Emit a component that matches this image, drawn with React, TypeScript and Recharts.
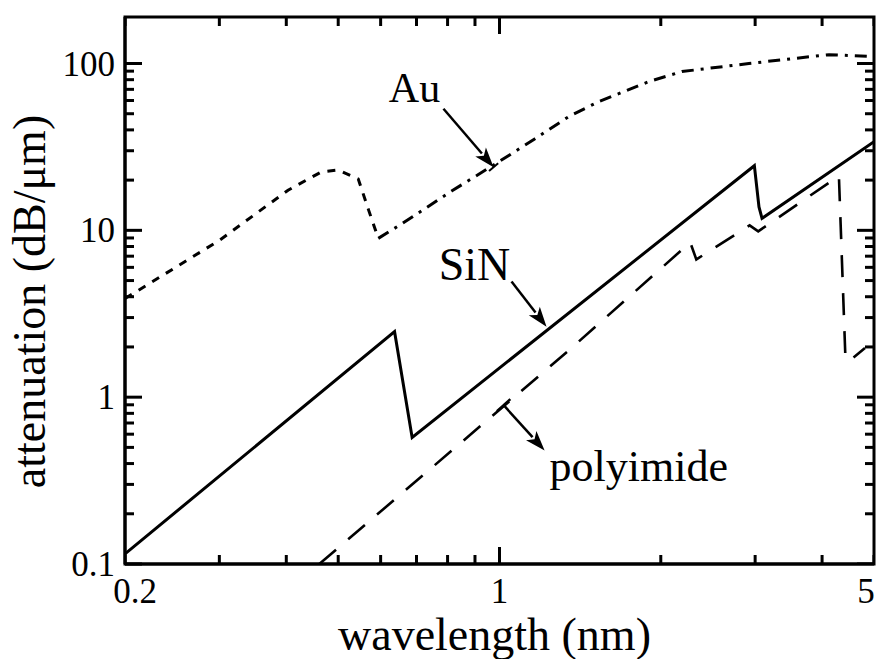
import React from 'react';
import { ComposedChart, Line, Scatter, XAxis, YAxis, ReferenceLine, ReferenceDot, ReferenceArea } from 'recharts';

// ---- tick definitions ----
const wavelengthTicks = [0.2, 0.3, 0.4, 0.5, 0.6, 0.7, 0.8, 0.9, 1, 2, 3, 4, 5];
const wavelengthMajorTicks = [1];
const wavelengthLabelValues = [0.2, 1, 5];
const wavelengthLabelTexts = ['0.2', '1', '5'];
const wavelengthMin = 0.2;
const wavelengthMax = 5;

const attenuationTicks = [
  0.1, 0.2, 0.3, 0.4, 0.5, 0.6, 0.7, 0.8, 0.9,
  1, 2, 3, 4, 5, 6, 7, 8, 9,
  10, 20, 30, 40, 50, 60, 70, 80, 90,
  100,
];
const attenuationMajorTicks = [0.1, 1, 10, 100];
const attenuationLabelTexts = ['0.1', '1', '10', '100'];
const attenuationMin = 0.1;
const attenuationMax = 190;

const xTitle = 'wavelength (nm)';
const yTitle = 'attenuation (dB/μm)';

// ---- series ----
const sinWavelength = [0.2, 0.637, 0.687, 2.99, 3.05, 3.09, 5];
const sinAttenuation = [0.115, 2.47, 0.574, 24.4, 13.8, 11.8, 34];

const polyWavelength = [0.461, 1.35, 2.27, 2.33, 2.93, 3.04, 4.3, 4.42, 4.48, 4.81];
const polyAttenuation = [0.1, 1.92, 8.47, 6.69, 10.7, 9.86, 21.2, 1.79, 1.63, 1.97];

const auWavelength = [0.2, 0.3, 0.403, 0.465, 0.5, 0.545, 0.569, 0.594, 0.656, 0.814, 0.996, 1.163, 1.346, 1.53, 1.9, 2.19, 2.92, 4.12, 5];
const auAttenuation = [3.9, 8.71, 17.4, 22.4, 23.0, 20.3, 13.4, 8.95, 10.9, 17.2, 25.7, 35.3, 48.0, 59.0, 77.9, 89.5, 100, 113, 110];
const auEdgeIndex = 7; // trough after the M-edge

// ---- annotations (data coordinates) ----
const labelTexts = ['Au', 'SiN', 'polyimide'];
const labelWavelength = [0.694, 0.898, 1.24];
const labelAttenuation = [59, 5.07, 0.316];
const arrowFrom = [
  { x: 0.786, y: 53.6 },
  { x: 1.053, y: 4.93 },
  { x: 1.018, y: 0.895 },
];
const arrowTo = [
  { x: 0.975, y: 23.9 },
  { x: 1.224, y: 2.64 },
  { x: 1.214, y: 0.479 },
];

const near = (a: number, b: number) => Math.abs(a - b) < 1e-9 * Math.max(1, Math.abs(b));
const toPoints = (xs: number[], ys: number[]) => xs.map((x, i) => ({ x, y: ys[i] }));
const sinData = toPoints(sinWavelength, sinAttenuation);
const polyData = toPoints(polyWavelength, polyAttenuation);
const auAll = toPoints(auWavelength, auAttenuation);
const auLow = auAll.slice(0, auEdgeIndex + 1);
const auHigh = auAll.slice(auEdgeIndex);

const isXMajor = (v: number) => wavelengthMajorTicks.some((m) => near(m, v));
const isYMajor = (v: number) => attenuationMajorTicks.some((m) => near(m, v));
const bottomTickData = wavelengthTicks.map((v) => ({ x: v, y: attenuationMin, major: isXMajor(v) }));
const topTickData = wavelengthTicks.map((v) => ({ x: v, y: attenuationMax, major: isXMajor(v) }));
const rightTickData = attenuationTicks.map((v) => ({ x: wavelengthMax, y: v, major: isYMajor(v) }));

const FONT = '"Liberation Serif", "Times New Roman", serif';

const tickShape = (dx: number, dy: number) => (p: any) => {
  const len = p.payload && p.payload.major ? 17 : 9;
  return <line x1={p.cx} y1={p.cy} x2={p.cx + dx * len} y2={p.cy + dy * len} stroke="#000" strokeWidth={3} />;
};

const BottomTick = (props: any) => {
  const { x, y, payload } = props;
  const li = wavelengthLabelValues.findIndex((m) => near(m, payload.value));
  if (li < 0) return <g />;
  const dx = li === 0 ? 10 : li === 2 ? -8 : 0;
  return (
    <text x={x + dx} y={y + 39} textAnchor="middle" fontFamily={FONT} fontSize={35} fill="#000">
      {wavelengthLabelTexts[li]}
    </text>
  );
};

const LeftTick = (props: any) => {
  const { x, y, payload } = props;
  const li = attenuationMajorTicks.findIndex((m) => near(m, payload.value));
  const len = li >= 0 ? 17 : 9;
  return (
    <g>
      <line x1={x} y1={y} x2={x + len} y2={y} stroke="#000" strokeWidth={3} />
      {li >= 0 && (
        <text x={x - 10} y={y + 12} textAnchor="end" fontFamily={FONT} fontSize={35} fill="#000">
          {attenuationLabelTexts[li]}
        </text>
      )}
    </g>
  );
};

const XTitle = (props: any) => {
  const vb = props.viewBox || { x: 125, y: 564, width: 749, height: 95 };
  return (
    <text x={vb.x + vb.width / 2 - 5} y={vb.y + 86} textAnchor="middle" fontFamily={FONT} fontSize={46} fill="#000">
      {xTitle}
    </text>
  );
};

const YTitle = (props: any) => {
  const vb = props.viewBox || { x: 0, y: 17, width: 125, height: 547 };
  const cy = vb.y + vb.height / 2 + 11;
  return (
    <text x={0} y={0} transform={`translate(${vb.x + 45},${cy}) rotate(-90)`} textAnchor="middle" fontFamily={FONT} fontSize={46} fill="#000">
      {yTitle}
    </text>
  );
};

const makeArrow = (startBar: boolean, endBar: boolean) => (p: any) => {
  const { x1, y1, x2, y2 } = p;
  const dx = x2 - x1;
  const dy = y2 - y1;
  const len = Math.sqrt(dx * dx + dy * dy) || 1;
  const ux = dx / len;
  const uy = dy / len;
  const nx = -uy;
  const ny = ux;
  const head = 20;
  const hw = 7;
  const bx = x2 - ux * head;
  const by = y2 - uy * head;
  return (
    <g>
      <line x1={x1} y1={y1} x2={bx + ux * 2} y2={by + uy * 2} stroke="#000" strokeWidth={2.5} />
      <polygon points={`${x2},${y2} ${bx + nx * hw},${by + ny * hw} ${bx + ux * 5},${by + uy * 5} ${bx - nx * hw},${by - ny * hw}`} fill="#000" />
      {startBar && (
        <line x1={x1 + nx * 9} y1={y1 + ny * 9} x2={x1 - nx * 9} y2={y1 - ny * 9} stroke="#000" strokeWidth={2.5} />
      )}
      {endBar && (
        <line x1={x2 + nx * 6} y1={y2 + ny * 6} x2={x2 - nx * 6} y2={y2 - ny * 6} stroke="#000" strokeWidth={2} />
      )}
    </g>
  );
};

const makeLabel = (text: string, anchor: string, size: number) => (p: any) => (
  <text x={p.cx} y={p.cy} textAnchor={anchor} fontFamily={FONT} fontSize={size} fill="#000">
    {text}
  </text>
);

const labelAnchors = ['middle', 'middle', 'start'];
const labelSizes = [42, 46, 44];

export default function App() {
  return (
    <div style={{ position: 'absolute', left: 0, top: 0, width: 879, height: 659, background: '#fff' }}>
      <ComposedChart width={879} height={659} margin={{ top: 17, right: 5, bottom: 0, left: 0 }}>
        <XAxis
          dataKey="x"
          type="number"
          scale="log"
          domain={[wavelengthMin, wavelengthMax]}
          allowDataOverflow
          ticks={wavelengthTicks}
          interval={0}
          tickSize={0}
          tickMargin={0}
          tickLine={false}
          tick={<BottomTick />}
          height={95}
          axisLine={{ stroke: '#000', strokeWidth: 3 }}
          label={<XTitle />}
        />
        <YAxis
          dataKey="y"
          type="number"
          scale="log"
          domain={[attenuationMin, attenuationMax]}
          allowDataOverflow
          ticks={attenuationTicks}
          interval={0}
          tickSize={0}
          tickMargin={0}
          tickLine={false}
          tick={<LeftTick />}
          width={125}
          axisLine={{ stroke: '#000', strokeWidth: 3 }}
          label={<YTitle />}
        />
        <ReferenceArea
          x1={wavelengthMin}
          x2={wavelengthMax}
          y1={attenuationMin}
          y2={attenuationMax}
          ifOverflow="visible"
          fill="none"
          fillOpacity={0}
          stroke="#000"
          strokeWidth={3}
        />
        <Scatter data={bottomTickData} dataKey="y" shape={tickShape(0, -1)} isAnimationActive={false} />
        <Scatter data={topTickData} dataKey="y" shape={tickShape(0, 1)} isAnimationActive={false} />
        <Scatter data={rightTickData} dataKey="y" shape={tickShape(-1, 0)} isAnimationActive={false} />
        <Line data={sinData} dataKey="y" type="linear" stroke="#000" strokeWidth={3} dot={false} isAnimationActive={false} />
        <Line data={polyData} dataKey="y" type="linear" stroke="#000" strokeWidth={2.6} strokeDasharray="22 16" dot={false} isAnimationActive={false} />
        <Line data={auLow} dataKey="y" type="linear" stroke="#000" strokeWidth={3} strokeDasharray="8 8" dot={false} isAnimationActive={false} />
        <Line data={auHigh} dataKey="y" type="linear" stroke="#000" strokeWidth={3} strokeDasharray="12 7 3 7" dot={false} isAnimationActive={false} />
        {arrowFrom.map((f, i) => (
          <ReferenceLine key={'arrow' + i} segment={[f, arrowTo[i]]} ifOverflow="visible" shape={makeArrow(i === 2, i === 0)} />
        ))}
        {labelTexts.map((t, i) => (
          <ReferenceDot
            key={'label' + i}
            x={labelWavelength[i]}
            y={labelAttenuation[i]}
            r={0}
            ifOverflow="visible"
            shape={makeLabel(t, labelAnchors[i], labelSizes[i])}
          />
        ))}
      </ComposedChart>
    </div>
  );
}
